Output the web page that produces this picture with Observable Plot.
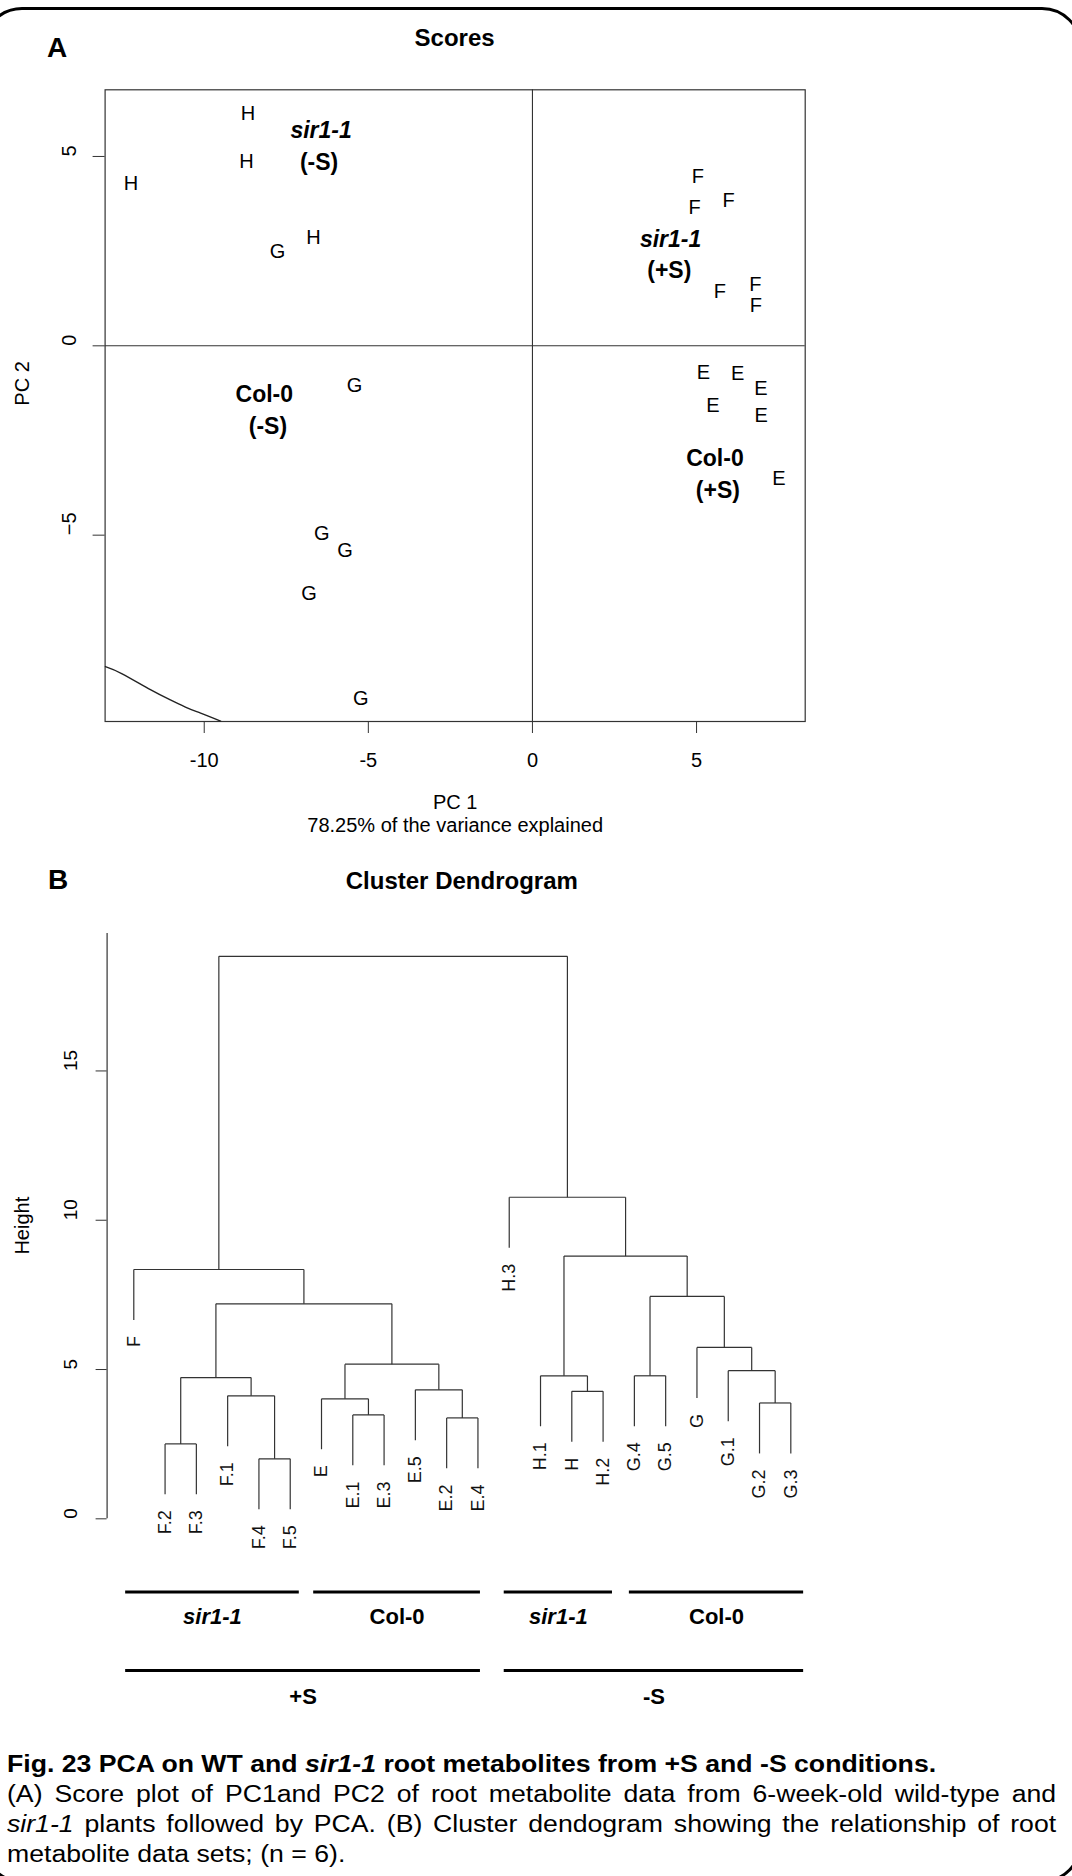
<!DOCTYPE html>
<html>
<head>
<meta charset="utf-8">
<script src="https://cdn.jsdelivr.net/npm/d3@7"></script>
<script src="https://cdn.jsdelivr.net/npm/@observablehq/plot@0.6"></script>
<style>
  html, body { margin: 0; padding: 0; background: #fff; }
  body { width: 1072px; height: 1876px; position: relative; overflow: hidden;
         font-family: "Liberation Sans", Arial, Helvetica, sans-serif; color: #000; }
  .abs { position: absolute; line-height: 1; white-space: nowrap; }
  .panel { font-weight: bold; font-size: 28px; }
  .title { font-weight: bold; font-size: 24px; transform: translateX(-50%); }
  #border { position: absolute; left: -18px; top: 6.5px; width: 1100px; height: 1876px;
            border: 3px solid #000; border-radius: 40px; box-sizing: border-box; }
  #caption { position: absolute; left: 7px; top: 1749px; width: 906px; font-size: 23px;
             line-height: 30px; transform: scaleX(1.158); transform-origin: 0 0; }
  #caption .j { text-align: justify; text-align-last: justify; }
  #pca, #dendro { position: absolute; left: 0; }
</style>
</head>
<body>
<div id="border"></div>
<div id="pca" style="top:0"></div>
<div id="dendro" style="top:900px"></div>
<div class="abs panel" style="left:47px;top:34px">A</div>
<div class="abs title" style="left:454.6px;top:26px">Scores</div>
<div class="abs panel" style="left:48px;top:866px">B</div>
<div class="abs title" style="left:461.8px;top:868.5px">Cluster Dendrogram</div>
<div id="caption">
  <div><b>Fig. 23 PCA on WT and <i>sir1-1</i> root metabolites from +S and -S conditions.</b></div>
  <div class="j">(A) Score plot of PC1and PC2 of root metabolite data from 6-week-old wild-type and</div>
  <div class="j"><i>sir1-1</i> plants followed by PCA. (B) Cluster dendogram showing the relationship of root</div>
  <div>metabolite data sets; (n = 6).</div>
</div>

<script>
// ---------- Panel A: PCA scores ----------
const scoreGroup = ["H","H","H","H",
                    "G","G","G","G","G","G",
                    "F","F","F","F","F","F",
                    "E","E","E","E","E","E"];
const scorePC1 = [-8.67, -8.71, -12.23, -6.67,
                  -7.77, -5.42, -6.42, -5.71, -6.81, -5.23,
                  5.04, 4.94, 5.98, 5.71, 6.79, 6.81,
                  5.21, 6.25, 6.96, 5.50, 6.97, 7.51];
const scorePC2 = [6.13, 4.87, 4.29, 2.87,
                  2.50, -1.05, -4.95, -5.42, -6.53, -9.32,
                  4.48, 3.66, 3.84, 1.44, 1.62, 1.06,
                  -0.72, -0.74, -1.14, -1.57, -1.83, -3.51];

// group annotations inside the score plot
const annotText = ["sir1-1", "(-S)", "sir1-1", "(+S)", "Col-0", "(-S)", "Col-0", "(+S)"];
const annotPC1  = [-6.44, -6.50, 4.21, 4.17, -8.17, -8.06, 5.56, 5.65];
const annotPC2  = [5.69, 4.85, 2.80, 1.98, -1.29, -2.13, -2.99, -3.82];

// visible arc of the confidence ellipse (lower-left corner)
const ellipsePC1 = [-13.01, -12.50, -11.64, -11.03, -10.52, -10.11, -9.50];
const ellipsePC2 = [-8.47, -8.66, -9.08, -9.35, -9.56, -9.70, -9.91];

const pc1Domain = [-13.02, 8.31];
const pc2Domain = [-9.92, 6.76];
const pc1Ticks = [-10, -5, 0, 5];
const pc2Ticks = [-5, 0, 5];
const varianceText = "78.25% of the variance explained";

const scores = scoreGroup.map((g, i) => ({g, x: scorePC1[i], y: scorePC2[i]}));
const annots = annotText.map((t, i) => ({t, x: annotPC1[i], y: annotPC2[i]}));
const ellipse = ellipsePC1.map((x, i) => ({x, y: ellipsePC2[i]}));

const ink = "#333";
const fontFamily = "'Liberation Sans', Arial, Helvetica, sans-serif";

const pca = Plot.plot({
  width: 1072,
  height: 850,
  marginLeft: 104.6,
  marginRight: 267.3,
  marginTop: 89.3,
  marginBottom: 129,
  style: {fontFamily, fontSize: "20px", background: "transparent", color: "#000"},
  x: {domain: pc1Domain, axis: null},
  y: {domain: pc2Domain, axis: null},
  marks: [
    Plot.frame({stroke: ink, strokeWidth: 1.2}),
    Plot.ruleX([0], {stroke: ink, strokeWidth: 1.1}),
    Plot.ruleY([0], {stroke: ink, strokeWidth: 1.1}),
    Plot.line(ellipse, {x: "x", y: "y", curve: "natural", stroke: "#222", strokeWidth: 1.4}),
    Plot.text(scores, {x: "x", y: "y", text: "g", fontSize: 20}),
    Plot.text(annots, {filter: d => d.t === "sir1-1", x: "x", y: "y", text: "t",
                       fontSize: 23, fontWeight: "bold", fontStyle: "italic"}),
    Plot.text(annots, {filter: d => d.t !== "sir1-1", x: "x", y: "y", text: "t",
                       fontSize: 23, fontWeight: "bold"}),
    Plot.axisX({ticks: pc1Ticks, tickSize: 12, tickPadding: 19, fontSize: 20,
                tickFormat: d => String(d), label: null, stroke: ink}),
    Plot.axisY({ticks: pc2Ticks, tickSize: 12, tickFormat: () => "", label: null, stroke: ink}),
    Plot.text(pc2Ticks, {y: d => d, frameAnchor: "left", dx: -35.5, rotate: -90, fontSize: 20,
                         text: d => d < 0 ? "\u2212" + Math.abs(d) : String(d)}),
    Plot.text(["PC 1"], {frameAnchor: "bottom", dy: 87, fontSize: 20, text: d => d}),
    Plot.text([varianceText], {frameAnchor: "bottom", dy: 110, fontSize: 20, text: d => d}),
    Plot.text(["PC 2"], {frameAnchor: "left", dx: -83, rotate: -90, fontSize: 20, text: d => d})
  ]
});
document.getElementById("pca").append(pca);

// ---------- Panel B: cluster dendrogram ----------
const leaves = ["F","F.2","F.3","F.1","F.4","F.5","E","E.1","E.3","E.5","E.2","E.4",
                "H.3","H.1","H","H.2","G.4","G.5","G","G.1","G.2","G.3"];
// merge table: negative = leaf (1-based), positive = earlier merge (1-based)
const mergeLeft   = [-2, -5, -4, 1, -8, -7, -11, -10, 6, 4, -1,
                     -15, -14, -17, -21, -20, -19, 14, 13, -13, 11];
const mergeRight  = [-3, -6, 2, 3, -9, 5, -12, 7, 8, 9, 10,
                     -16, 12, -18, -22, 15, 16, 17, 18, 19, 20];
const mergeHeight = [2.51, 2.01, 4.12, 4.73, 3.48, 4.02, 3.38, 4.32, 5.18, 7.20, 8.35,
                     4.27, 4.79, 4.79, 3.88, 4.96, 5.74, 7.45, 8.80, 10.77, 18.84];
const leafHang = 1.69;

// group bars below the tree (in leaf-position units)
const groupText  = ["sir1-1", "Col-0", "sir1-1", "Col-0", "+S", "-S"];
const groupStart = [-0.26, 5.75, 11.84, 15.84, -0.26, 11.84];
const groupEnd   = [5.29, 11.08, 15.30, 21.41, 11.08, 21.41];
const groupRow   = [-2.45, -2.45, -2.45, -2.45, -5.08, -5.08];
const groupLabelRow = [-3.28, -3.28, -3.28, -3.28, -5.98, -5.98];

const heightTicks = [0, 5, 10, 15];
const heightAxisTop = 19.6;
const leafDomain = [-0.853, 21.853];
const heightDomain = [-6.5, 19.62];

const nodeX = [], leafEnd = [], segs = [];
function childOf(ref, h) {
  if (ref < 0) {
    const i = -ref - 1;
    leafEnd[i] = h - leafHang;
    return {x: i, top: leafEnd[i]};
  }
  return {x: nodeX[ref - 1], top: mergeHeight[ref - 1]};
}
mergeHeight.forEach((h, k) => {
  const a = childOf(mergeLeft[k], h);
  const b = childOf(mergeRight[k], h);
  nodeX[k] = (a.x + b.x) / 2;
  segs.push({x1: a.x, y1: a.top, x2: a.x, y2: h});
  segs.push({x1: b.x, y1: b.top, x2: b.x, y2: h});
  segs.push({x1: a.x, y1: h, x2: b.x, y2: h});
});
const leafLabels = leaves.map((name, i) => ({name, x: i, y: leafEnd[i]}));
const groups = groupText.map((t, i) => ({t, x1: groupStart[i], x2: groupEnd[i],
  xm: (groupStart[i] + groupEnd[i]) / 2, y: groupRow[i], ly: groupLabelRow[i]}));

const dendro = Plot.plot({
  width: 1072,
  height: 830,
  marginLeft: 106.6,
  marginRight: 255,
  marginTop: 32.5,
  marginBottom: 17.6,
  style: {fontFamily, fontSize: "19px", background: "transparent", color: "#000"},
  x: {domain: leafDomain, axis: null},
  y: {domain: heightDomain, axis: null},
  marks: [
    Plot.link(segs, {x1: "x1", y1: "y1", x2: "x2", y2: "y2", stroke: ink, strokeWidth: 1.2}),
    Plot.text(leafLabels, {x: "x", y: "y", text: "name", rotate: -90, textAnchor: "end",
                           dy: 16, fontSize: 18, fill: "#111"}),
    Plot.ruleX([leafDomain[0]], {y1: 0, y2: heightAxisTop, stroke: ink, strokeWidth: 1.2}),
    Plot.axisY({ticks: heightTicks, tickSize: 11, tickFormat: () => "", label: null, stroke: ink}),
    Plot.text(heightTicks, {y: d => d, frameAnchor: "left", dx: -36, rotate: -90, fontSize: 19,
                            text: d => String(d)}),
    Plot.text(["Height"], {y: 8.85, frameAnchor: "left", dx: -84.6, rotate: -90, fontSize: 20,
                           text: d => d}),
    Plot.ruleY(groups, {x1: "x1", x2: "x2", y: "y", stroke: "#000", strokeWidth: 3}),
    Plot.text(groups, {filter: d => d.t === "sir1-1", x: "xm", y: "ly", text: "t",
                       fontSize: 22, fontWeight: "bold", fontStyle: "italic"}),
    Plot.text(groups, {filter: d => d.t !== "sir1-1", x: "xm", y: "ly", text: "t",
                       fontSize: 22, fontWeight: "bold"})
  ]
});
document.getElementById("dendro").append(dendro);
</script>
</body>
</html>
